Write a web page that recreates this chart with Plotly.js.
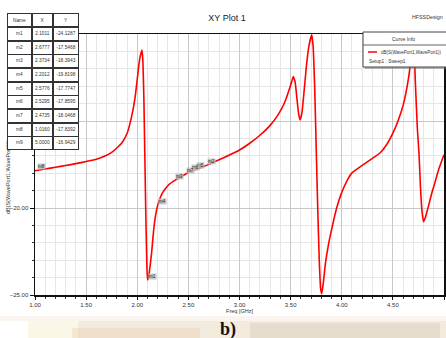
<!DOCTYPE html>
<html>
<head>
<meta charset="utf-8">
<script src="https://cdn.plot.ly/plotly-3.0.1.min.js"></script>
<style>html,body{margin:0;padding:0;background:#fff;}#chart{width:446px;height:338px;}</style>
</head>
<body>
<div id="chart"></div>
<script>
// ---- data ----
var freqGHz = [1.00,1.016,1.10,1.20,1.30,1.40,1.50,1.60,1.70,1.75,1.80,1.85,1.90,1.93,1.96,1.98,2.00,2.01,2.025,2.046,2.055,2.065,2.075,2.085,2.095,2.1011,2.11,2.12,2.14,2.16,2.18,2.2012,2.24,2.28,2.32,2.3734,2.42,2.4735,2.5295,2.5776,2.6777,2.75,2.85,3.00,3.10,3.20,3.30,3.38,3.44,3.48,3.51,3.526,3.545,3.565,3.58,3.592,3.61,3.63,3.655,3.68,3.706,3.72,3.735,3.75,3.765,3.78,3.793,3.804,3.82,3.84,3.87,3.90,3.95,4.00,4.05,4.10,4.20,4.30,4.374,4.44,4.50,4.55,4.60,4.64,4.667,4.685,4.697,4.708,4.72,4.74,4.755,4.77,4.785,4.80,4.82,4.85,4.88,4.91,4.95,5.00];
var dBS11 = [-17.86,-17.84,-17.76,-17.66,-17.56,-17.45,-17.33,-17.20,-16.97,-16.80,-16.55,-16.25,-15.72,-15.12,-14.30,-13.60,-12.60,-12.07,-11.40,-10.92,-11.50,-13.80,-17.30,-20.80,-23.50,-24.13,-24.00,-23.60,-22.60,-21.30,-20.40,-19.82,-19.20,-18.85,-18.60,-18.39,-18.22,-18.05,-17.86,-17.77,-17.55,-17.36,-17.10,-16.67,-16.28,-15.82,-15.25,-14.62,-13.95,-13.30,-12.75,-12.45,-12.80,-13.90,-14.65,-14.94,-14.55,-13.40,-11.80,-10.65,-10.05,-10.70,-13.00,-16.50,-20.00,-23.00,-24.60,-24.92,-24.30,-23.20,-22.10,-21.26,-20.00,-19.10,-18.45,-17.98,-17.55,-17.15,-16.84,-16.35,-15.70,-15.00,-14.10,-13.00,-11.95,-10.95,-10.60,-10.95,-12.80,-15.50,-16.80,-18.80,-20.20,-20.79,-20.50,-19.85,-19.15,-18.56,-17.75,-16.94];

var markerNames = ['m1','m2','m3','m4','m5','m6','m7','m8','m9'];
var markerX = [2.1011,2.6777,2.3734,2.2012,2.5776,2.5295,2.4735,1.0160,5.0000];
var markerY = [-24.1287,-17.5468,-18.3943,-19.8198,-17.7747,-17.8595,-18.0468,-17.8392,-16.9429];

var xTickVals = [1.0,1.5,2.0,2.5,3.0,3.5,4.0,4.5,5.0];
var yTickVals = [-25,-20,-15,-10];

var curveName = 'dB(S(WavePort1,WavePort1))';
var setupName = 'Setup1 : Sweep1';

// ---- layout helpers (pixel -> paper) ----
var L = 35, R = 444, T = 34, B = 295;
function px(x){ return (x - L) / (R - L); }
function py(y){ return (B - y) / (B - T); }
var NARROW = '"Liberation Sans Narrow","Arial Narrow","Liberation Sans",Arial,sans-serif';

var annotations = [];
var shapes = [];

// y axis title (drawn first so the table covers its upper part, as in the reference)
annotations.push({xref:'paper', yref:'paper', x:px(8), y:py(178), text:curveName, textangle:-90,
  showarrow:false, xanchor:'center', yanchor:'middle', font:{family:NARROW, size:5.5, color:'#333'}});

// marker labels on the curve (m9 sits at the right edge and is not visible)
for (var i = 0; i < markerNames.length - 1; i++) {
  annotations.push({xref:'x', yref:'y', x:markerX[i], y:markerY[i], text:markerNames[i], showarrow:false,
    xanchor:'left', yanchor:'bottom', bgcolor:'rgba(190,190,190,0.85)', borderpad:0,
    font:{family:NARROW, size:4.5, color:'#222'}});
}

// marker table (top-left)
var colX = [7, 32, 53, 79];
var rowY = [13, 27];
for (var r = 0; r < markerNames.length; r++) rowY.push(27 + (r + 1) * 13.67);
function cell(c, r, txt){
  var w = colX[c+1] - colX[c], h = rowY[r+1] - rowY[r];
  annotations.push({xref:'paper', yref:'paper', x:px(colX[c]), y:py(rowY[r]), xanchor:'left', yanchor:'top',
    width:w - 2, height:h - 2, borderwidth:1, borderpad:0, bordercolor:'#333', bgcolor:'#fff',
    text:txt, showarrow:false, align:'center', valign:'middle',
    font:{family:NARROW, size:4.8, color:'#333'}});
}
cell(0,0,'Name'); cell(1,0,'X'); cell(2,0,'Y');
for (var r2 = 0; r2 < markerNames.length; r2++) {
  cell(0, r2+1, markerNames[r2]);
  cell(1, r2+1, markerX[r2].toFixed(4));
  cell(2, r2+1, markerY[r2].toFixed(4));
}

// Curve Info box (top-right)
shapes.push({type:'rect', xref:'paper', yref:'paper', x0:px(365), x1:px(449), y0:py(34), y1:py(69),
  line:{width:0}, fillcolor:'rgba(120,120,120,0.5)', layer:'above'});
shapes.push({type:'rect', xref:'paper', yref:'paper', x0:px(363), x1:px(447), y0:py(32), y1:py(67),
  line:{width:1, color:'#444'}, fillcolor:'#fff', layer:'above'});
shapes.push({type:'line', xref:'paper', yref:'paper', x0:px(363), x1:px(447), y0:py(45), y1:py(45),
  line:{width:1, color:'#666'}, layer:'above'});
shapes.push({type:'line', xref:'paper', yref:'paper', x0:px(368), x1:px(377), y0:py(52), y1:py(52),
  line:{width:1.5, color:'#ff0000'}, layer:'above'});
annotations.push({xref:'paper', yref:'paper', x:px(403), y:py(38.5), text:'Curve Info', showarrow:false,
  xanchor:'center', yanchor:'middle', font:{family:NARROW, size:5, color:'#333'}});
annotations.push({xref:'paper', yref:'paper', x:px(379), y:py(52), text:curveName, showarrow:false,
  xanchor:'left', yanchor:'middle', font:{family:NARROW, size:4.5, color:'#333'}});
annotations.push({xref:'paper', yref:'paper', x:px(367), y:py(61.5), text:setupName, showarrow:false,
  xanchor:'left', yanchor:'middle', font:{family:NARROW, size:4.8, color:'#333'}});

// design name
annotations.push({xref:'paper', yref:'paper', x:px(445), y:py(17), text:'HFSSDesign', showarrow:false,
  xanchor:'right', yanchor:'middle', font:{family:NARROW, size:5.3, color:'#333'}});

// blurred photo strip at the bottom with the panel label
shapes.push({type:'rect', xref:'paper', yref:'paper', x0:px(0), x1:px(446), y0:py(316), y1:py(321),
  line:{width:0}, fillcolor:'rgba(246,240,228,0.6)', layer:'below'});
shapes.push({type:'rect', xref:'paper', yref:'paper', x0:px(28), x1:px(446), y0:py(321), y1:py(338),
  line:{width:0}, fillcolor:'#f3ecde', layer:'below'});
shapes.push({type:'rect', xref:'paper', yref:'paper', x0:px(28), x1:px(78), y0:py(321), y1:py(338),
  line:{width:0}, fillcolor:'#fbf7e6', layer:'below'});
shapes.push({type:'rect', xref:'paper', yref:'paper', x0:px(72), x1:px(200), y0:py(328), y1:py(338),
  line:{width:0}, fillcolor:'rgba(228,200,165,0.35)', layer:'below'});
shapes.push({type:'rect', xref:'paper', yref:'paper', x0:px(250), x1:px(440), y0:py(323), y1:py(338),
  line:{width:0}, fillcolor:'rgba(210,196,178,0.35)', layer:'below'});
annotations.push({xref:'paper', yref:'paper', x:px(228), y:py(329), text:'<b>b)</b>', showarrow:false,
  xanchor:'center', yanchor:'middle', font:{family:'"Liberation Serif","Times New Roman",serif', size:18, color:'#111'}});

var trace = {
  x: freqGHz, y: dBS11, type:'scatter', mode:'lines', name:curveName,
  line:{color:'#ff0000', width:1.6, shape:'spline', smoothing:0.4}, hoverinfo:'skip'
};

var axisFont = {family:NARROW, size:6, color:'#333'};
var layout = {
  width:446, height:338,
  margin:{l:L, r:446-R, t:T, b:338-B, pad:0},
  paper_bgcolor:'#fff', plot_bgcolor:'#fff',
  showlegend:false,
  title:{text:'XY Plot 1', x:227/446, xref:'container', y:1-18/338, yref:'container',
    xanchor:'center', yanchor:'middle', font:{family:NARROW, size:9, color:'#222'}},
  xaxis:{
    range:[1,5], tickvals:xTickVals, tickformat:'.2f', tickfont:axisFont,
    showgrid:true, gridcolor:'#c8c8c8', gridwidth:1, zeroline:false,
    showline:true, linecolor:'#111', linewidth:1.5, mirror:true,
    ticks:'outside', ticklen:3, tickcolor:'#111', tickwidth:1,
    minor:{dtick:0.1, showgrid:true, gridcolor:'#e6e6e6', gridwidth:1, ticks:'outside', ticklen:2, tickcolor:'#333'},
    title:{text:'Freq [GHz]', font:{family:NARROW, size:5.5, color:'#333'}, standoff:2},
    automargin:false, fixedrange:true
  },
  yaxis:{
    range:[-25,-10], tickvals:yTickVals, tickformat:'.2f', tickfont:axisFont,
    showgrid:true, gridcolor:'#c8c8c8', gridwidth:1, zeroline:false,
    showline:true, linecolor:'#111', linewidth:1.5, mirror:true,
    ticks:'outside', ticklen:4, tickcolor:'#111', tickwidth:1,
    minor:{dtick:1, showgrid:true, gridcolor:'#e6e6e6', gridwidth:1, ticks:'outside', ticklen:2, tickcolor:'#333'},
    automargin:false, fixedrange:true
  },
  shapes:shapes,
  annotations:annotations
};

Plotly.newPlot('chart', [trace], layout, {staticPlot:true, displayModeBar:false});
</script>
</body>
</html>
